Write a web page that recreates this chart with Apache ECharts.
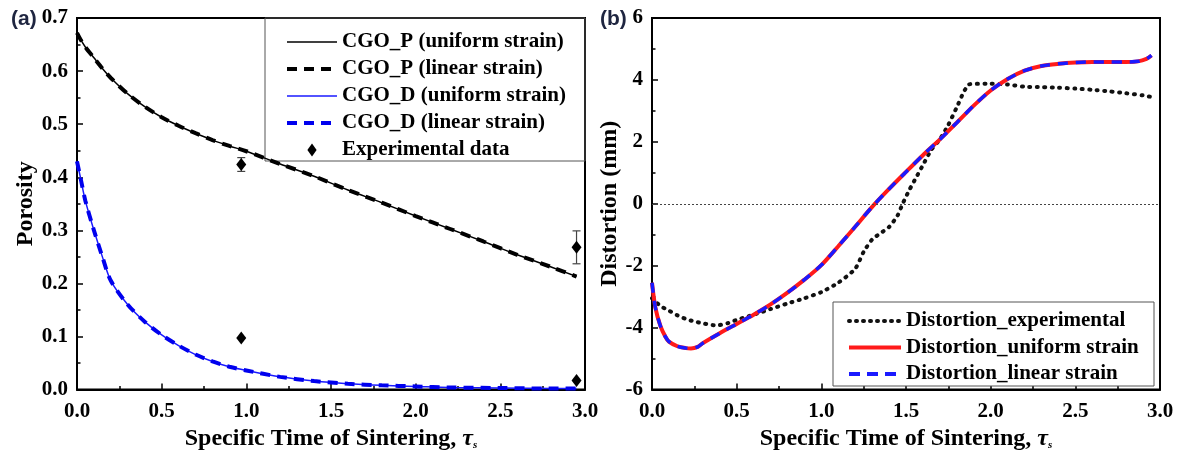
<!DOCTYPE html>
<html><head><meta charset="utf-8">
<script src="https://cdn.jsdelivr.net/npm/echarts@6/dist/echarts.min.js"></script>
<style>html,body{margin:0;padding:0;background:#fff}#c{width:1184px;height:456px}</style>
</head><body><div id="c"></div>
<script>
// ---------- Panel (a): Porosity ----------
const pX = [0, 0.02, 0.05, 0.1, 0.15, 0.2, 0.3, 0.4, 0.5, 0.6, 0.7, 0.8, 0.9, 1.0, 1.2, 1.4, 1.6, 1.8, 2.0, 2.2, 2.4, 2.6, 2.8, 2.95];
const cgoPUniform = [0.672, 0.66, 0.645, 0.625, 0.605, 0.587, 0.557, 0.533, 0.513, 0.497, 0.483, 0.47, 0.459, 0.449, 0.425, 0.402, 0.376, 0.352, 0.327, 0.303, 0.279, 0.254, 0.231, 0.213];
const cgoPLinear  = [0.672, 0.66, 0.645, 0.625, 0.605, 0.587, 0.557, 0.533, 0.513, 0.497, 0.483, 0.47, 0.459, 0.449, 0.425, 0.402, 0.376, 0.352, 0.327, 0.303, 0.279, 0.254, 0.231, 0.213];
const dX = [0, 0.02, 0.05, 0.1, 0.15, 0.2, 0.3, 0.4, 0.5, 0.6, 0.7, 0.8, 0.9, 1.0, 1.2, 1.4, 1.6, 1.8, 2.0, 2.2, 2.5, 2.8, 2.95];
const cgoDUniform = [0.43, 0.40, 0.355, 0.30, 0.25, 0.205, 0.16, 0.128, 0.103, 0.083, 0.066, 0.053, 0.043, 0.036, 0.024, 0.016, 0.011, 0.008, 0.006, 0.004, 0.003, 0.002, 0.002];
const cgoDLinear  = [0.43, 0.40, 0.355, 0.30, 0.25, 0.205, 0.16, 0.128, 0.103, 0.083, 0.066, 0.053, 0.043, 0.036, 0.024, 0.016, 0.011, 0.008, 0.006, 0.004, 0.003, 0.002, 0.002];
const expX = [0.97, 0.97, 2.95, 2.95];
const expY = [0.424, 0.097, 0.268, 0.017];
const expErr = [0.013, 0, 0.031, 0];
const xTickLabels = ['0.0', '0.5', '1.0', '1.5', '2.0', '2.5', '3.0'];
const poroTickLabels = ['0.0', '0.1', '0.2', '0.3', '0.4', '0.5', '0.6', '0.7'];

// ---------- Panel (b): Distortion ----------
const distExpX = [0, 0.05, 0.1, 0.15, 0.2, 0.25, 0.3, 0.38, 0.45, 0.5, 0.6, 0.7, 0.8, 0.9, 1.0, 1.1, 1.2, 1.25, 1.3, 1.35, 1.4, 1.45, 1.48, 1.52, 1.56, 1.6, 1.65, 1.7, 1.75, 1.8, 1.84, 1.87, 1.9, 2.0, 2.1, 2.2, 2.3, 2.4, 2.5, 2.6, 2.7, 2.8, 2.9, 2.95];
const distExp = [-3.05, -3.3, -3.45, -3.6, -3.72, -3.8, -3.86, -3.93, -3.85, -3.75, -3.58, -3.4, -3.22, -3.05, -2.85, -2.55, -2.1, -1.55, -1.15, -0.95, -0.75, -0.38, 0.0, 0.45, 0.85, 1.25, 1.75, 2.08, 2.55, 3.12, 3.6, 3.85, 3.87, 3.88, 3.85, 3.78, 3.77, 3.75, 3.72, 3.68, 3.63, 3.57, 3.5, 3.45];
const distX = [0, 0.02, 0.05, 0.08, 0.1, 0.15, 0.2, 0.23, 0.27, 0.3, 0.4, 0.5, 0.6, 0.7, 0.8, 0.9, 1.0, 1.1, 1.2, 1.3, 1.4, 1.5, 1.6, 1.7, 1.8, 1.9, 2.0, 2.1, 2.2, 2.3, 2.4, 2.5, 2.6, 2.7, 2.8, 2.87, 2.92, 2.95];
const distUniform = [-2.55, -3.35, -3.95, -4.3, -4.45, -4.6, -4.66, -4.67, -4.62, -4.5, -4.18, -3.88, -3.58, -3.25, -2.87, -2.45, -1.98, -1.37, -0.74, -0.1, 0.48, 1.03, 1.57, 2.08, 2.62, 3.17, 3.66, 4.03, 4.3, 4.45, 4.52, 4.56, 4.58, 4.58, 4.58, 4.6, 4.68, 4.79];
const distLinear  = [-2.55, -3.35, -3.95, -4.3, -4.45, -4.6, -4.66, -4.67, -4.62, -4.5, -4.18, -3.88, -3.58, -3.25, -2.87, -2.45, -1.98, -1.37, -0.74, -0.1, 0.48, 1.03, 1.57, 2.08, 2.62, 3.17, 3.66, 4.03, 4.3, 4.45, 4.52, 4.56, 4.58, 4.58, 4.58, 4.6, 4.68, 4.79];
const distTickLabels = ['-6', '-4', '-2', '0', '2', '4', '6'];

const SERIF = 'Liberation Serif';
const zip = (xs, ys) => xs.map((x, i) => [x, ys[i]]);

function xAxisDef(gi) {
  return {
    type: 'value', gridIndex: gi, min: 0, max: 3, interval: 0.5,
    name: 'Specific Time of Sintering, {t|τ}{s|s}',
    nameLocation: 'middle', nameGap: 24,
    nameTextStyle: {
      fontFamily: SERIF, fontWeight: 'bold', fontSize: 24, color: '#000',
      rich: {
        t: { fontFamily: SERIF, fontStyle: 'italic', fontWeight: 'bold', fontSize: 24, color: '#000' },
        s: { fontFamily: SERIF, fontStyle: 'italic', fontWeight: 'bold', fontSize: 11, color: '#000', padding: [14, 0, 0, 0] }
      }
    },
    axisLine: { show: true, onZero: false, lineStyle: { color: '#000', width: 2 } },
    axisTick: { show: true, inside: true, length: 6, lineStyle: { color: '#000', width: 1.5 } },
    minorTick: { show: true, splitNumber: 2, length: 3.5, lineStyle: { color: '#000', width: 1.5 } },
    axisLabel: { fontFamily: SERIF, fontWeight: 'bold', fontSize: 21, color: '#000', margin: 11,
      formatter: v => xTickLabels[Math.round(v / 0.5)] },
    splitLine: { show: false }
  };
}

const legendText = { fontFamily: SERIF, fontWeight: 'bold', fontSize: 21, lineHeight: 22, color: '#000' };
const noSym = { opacity: 0 };
const diamondIcon = 'path://M5,0 L10,7 L5,14 L0,7 Z';

const option = {
  backgroundColor: '#fff',
  animation: false,
  title: [
    { text: '(a)', left: 6, top: 4, textStyle: { fontFamily: 'Liberation Sans', fontWeight: 'bold', fontSize: 21, color: '#1e2540' } },
    { text: '(b)', left: 595, top: 4, textStyle: { fontFamily: 'Liberation Sans', fontWeight: 'bold', fontSize: 21, color: '#1e2540' } }
  ],
  grid: [
    { left: 77, top: 18, width: 508, height: 376, show: true, borderColor: '#000', borderWidth: 2, backgroundColor: 'transparent' },
    { left: 652, top: 18, width: 508, height: 376, show: true, borderColor: '#000', borderWidth: 2, backgroundColor: 'transparent' }
  ],
  xAxis: [xAxisDef(0), xAxisDef(1)],
  yAxis: [
    {
      type: 'value', gridIndex: 0, min: 0, max: 0.7, interval: 0.1,
      name: 'Porosity', nameLocation: 'middle', nameRotate: 90, nameGap: 29,
      nameTextStyle: { fontFamily: SERIF, fontWeight: 'bold', fontSize: 24, color: '#000' },
      axisLine: { show: true, lineStyle: { color: '#000', width: 2 } },
      axisTick: { show: true, inside: true, length: 6, lineStyle: { color: '#000', width: 1.5 } },
      minorTick: { show: true, splitNumber: 2, length: 3.5, lineStyle: { color: '#000', width: 1.5 } },
      axisLabel: { fontFamily: SERIF, fontWeight: 'bold', fontSize: 21, color: '#000', margin: 9,
        formatter: v => poroTickLabels[Math.round(v / 0.1)] },
      splitLine: { show: false }
    },
    {
      type: 'value', gridIndex: 1, min: -6, max: 6, interval: 2,
      name: 'Distortion (mm)', nameLocation: 'middle', nameRotate: 90, nameGap: 20,
      nameTextStyle: { fontFamily: SERIF, fontWeight: 'bold', fontSize: 24, color: '#000' },
      axisLine: { show: true, onZero: false, lineStyle: { color: '#000', width: 2 } },
      axisTick: { show: true, inside: true, length: 6, lineStyle: { color: '#000', width: 1.5 } },
      minorTick: { show: true, splitNumber: 2, length: 3.5, lineStyle: { color: '#000', width: 1.5 } },
      axisLabel: { fontFamily: SERIF, fontWeight: 'bold', fontSize: 21, color: '#000', margin: 9,
        formatter: v => distTickLabels[Math.round((v + 6) / 2)] },
      splitLine: { show: false }
    }
  ],
  legend: [
    {
      data: [
        { name: 'CGO_P (uniform strain)', itemStyle: noSym, lineStyle: { color: '#000', width: 1.5, type: 'solid' } },
        { name: 'CGO_P (linear strain)', itemStyle: noSym, lineStyle: { color: '#000', width: 4, type: [10, 7] } },
        { name: 'CGO_D (uniform strain)', itemStyle: noSym, lineStyle: { color: '#1a1aff', width: 1.5, type: 'solid' } },
        { name: 'CGO_D (linear strain)', itemStyle: noSym, lineStyle: { color: '#0000ee', width: 4, type: [10, 7] } },
        { name: 'Experimental data', icon: diamondIcon, itemStyle: { color: '#000', opacity: 1 } }
      ],
      orient: 'vertical', left: 285, top: 31, itemWidth: 50, itemHeight: 13, itemGap: 5, padding: 0,
      symbolKeepAspect: true,
      textStyle: legendText
    },
    {
      data: [
        { name: 'Distortion_experimental', itemStyle: noSym, lineStyle: { color: '#111', width: 4, type: [1, 6], cap: 'round' } },
        { name: 'Distortion_uniform strain', itemStyle: noSym, lineStyle: { color: '#ff1a1a', width: 4, type: 'solid' } },
        { name: 'Distortion_linear strain', itemStyle: noSym, lineStyle: { color: '#1a1aff', width: 4, type: [11, 7] } }
      ],
      orient: 'vertical', left: 847, top: 310, itemWidth: 52, itemHeight: 14, itemGap: 4.5, padding: 0,
      textStyle: legendText
    }
  ],
  graphic: [
    { type: 'rect', shape: { x: 265, y: 18, width: 320, height: 143 }, style: { fill: 'none', stroke: '#555', lineWidth: 1 }, z: 1 },
    { type: 'rect', shape: { x: 833, y: 302, width: 321, height: 84 }, style: { fill: '#fff', stroke: '#555', lineWidth: 1 }, z: 1 }
  ],
  series: [
    { name: 'CGO_P (uniform strain)', type: 'line', xAxisIndex: 0, yAxisIndex: 0, data: zip(pX, cgoPUniform),
      symbol: 'none', smooth: 0.3, lineStyle: { color: '#000', width: 1.5 }, itemStyle: { color: '#000' }, z: 3 },
    { name: 'CGO_P (linear strain)', type: 'line', xAxisIndex: 0, yAxisIndex: 0, data: zip(pX, cgoPLinear),
      symbol: 'none', smooth: 0.3, lineStyle: { color: '#000', width: 4, type: [10, 7] }, itemStyle: { color: '#000' }, z: 4 },
    { name: 'CGO_D (uniform strain)', type: 'line', xAxisIndex: 0, yAxisIndex: 0, data: zip(dX, cgoDUniform),
      symbol: 'none', smooth: 0.3, lineStyle: { color: '#1a1aff', width: 1.5 }, itemStyle: { color: '#1a1aff' }, z: 3 },
    { name: 'CGO_D (linear strain)', type: 'line', xAxisIndex: 0, yAxisIndex: 0, data: zip(dX, cgoDLinear),
      symbol: 'none', smooth: 0.3, lineStyle: { color: '#0000ee', width: 4, type: [10, 7] }, itemStyle: { color: '#0000ee' }, z: 4 },
    { name: 'Experimental data', type: 'scatter', xAxisIndex: 0, yAxisIndex: 0, data: zip(expX, expY),
      symbol: 'diamond', symbolSize: [10, 13], itemStyle: { color: '#000', opacity: 1 }, z: 6 },
    { name: 'errbars', type: 'custom', xAxisIndex: 0, yAxisIndex: 0, z: 5,
      data: expX.map((x, i) => [x, expY[i] - expErr[i], expY[i] + expErr[i]]).filter((d, i) => expErr[i] > 0),
      renderItem: (params, api) => {
        const x = api.value(0);
        const lo = api.coord([x, api.value(1)]);
        const hi = api.coord([x, api.value(2)]);
        const w = 4;
        const st = { stroke: '#444', lineWidth: 1.2 };
        return { type: 'group', children: [
          { type: 'line', shape: { x1: lo[0], y1: lo[1], x2: hi[0], y2: hi[1] }, style: st },
          { type: 'line', shape: { x1: lo[0] - w, y1: lo[1], x2: lo[0] + w, y2: lo[1] }, style: st },
          { type: 'line', shape: { x1: hi[0] - w, y1: hi[1], x2: hi[0] + w, y2: hi[1] }, style: st }
        ] };
      }
    },
    { name: 'Distortion_experimental', type: 'line', xAxisIndex: 1, yAxisIndex: 1, data: zip(distExpX, distExp),
      symbol: 'none', smooth: 0.2, lineStyle: { color: '#111', width: 4, type: [1, 6.5], cap: 'round' }, itemStyle: { color: '#111' }, z: 3,
      markLine: { silent: true, symbol: 'none', label: { show: false },
        lineStyle: { color: '#444', width: 1, type: [2, 2] }, data: [{ yAxis: 0 }] } },
    { name: 'Distortion_uniform strain', type: 'line', xAxisIndex: 1, yAxisIndex: 1, data: zip(distX, distUniform),
      symbol: 'none', smooth: 0.3, lineStyle: { color: '#ff1a1a', width: 4 }, itemStyle: { color: '#ff1a1a' }, z: 4 },
    { name: 'Distortion_linear strain', type: 'line', xAxisIndex: 1, yAxisIndex: 1, data: zip(distX, distLinear),
      symbol: 'none', smooth: 0.3, lineStyle: { color: '#1a1aff', width: 3.5, type: [10, 8] }, itemStyle: { color: '#1a1aff' }, z: 5 }
  ]
};
const chart = echarts.init(document.getElementById('c'), null, { renderer: 'canvas' });
chart.setOption(option);
</script>
</body></html>
